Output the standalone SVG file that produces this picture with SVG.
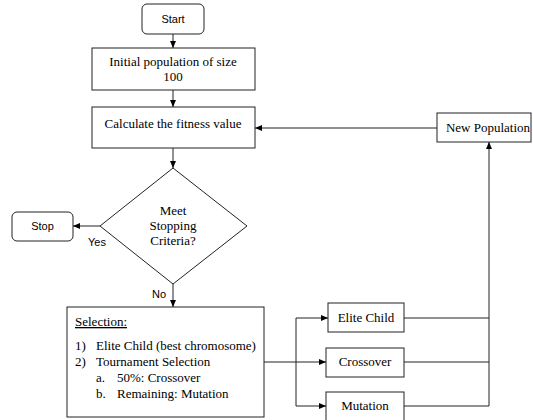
<svg xmlns="http://www.w3.org/2000/svg" width="533" height="420" viewBox="0 0 533 420">
<defs>
<marker id="ah" markerWidth="7" markerHeight="6" refX="7" refY="3" orient="auto" markerUnits="userSpaceOnUse">
<path d="M0,0 L7,3 L0,6 Z" fill="#000"/>
</marker>
<style>
.box{fill:#fff;stroke:#222;stroke-width:1}
.ln{fill:none;stroke:#222;stroke-width:1}
.ser{font-family:"Liberation Serif","Times New Roman",serif;font-size:13px;fill:#000}
.sans{font-family:"Liberation Sans",Arial,sans-serif;font-size:11px;fill:#000}
</style>
</defs>
<rect width="533" height="420" fill="#fff"/>
<g id="connectors">
<line class="ln" x1="173" y1="34" x2="173" y2="48" marker-end="url(#ah)"/>
<line class="ln" x1="173" y1="90" x2="173" y2="107" marker-end="url(#ah)"/>
<line class="ln" x1="173" y1="148" x2="173" y2="168" marker-end="url(#ah)"/>
<line class="ln" x1="100" y1="226" x2="73" y2="226" marker-end="url(#ah)"/>
<line class="ln" x1="173" y1="284" x2="173" y2="307" marker-end="url(#ah)"/>
<line class="ln" x1="437" y1="128" x2="255" y2="128" marker-end="url(#ah)"/>
<line class="ln" x1="264" y1="362" x2="296" y2="362"/>
<polyline class="ln" points="296,318 296,406"/>
<line class="ln" x1="296" y1="318" x2="328" y2="318" marker-end="url(#ah)"/>
<line class="ln" x1="296" y1="362" x2="326" y2="362" marker-end="url(#ah)"/>
<line class="ln" x1="296" y1="406" x2="326" y2="406" marker-end="url(#ah)"/>
<line class="ln" x1="404" y1="318" x2="489" y2="318"/>
<line class="ln" x1="404" y1="362" x2="489" y2="362"/>
<line class="ln" x1="404" y1="406" x2="489" y2="406"/>
<line class="ln" x1="489" y1="406" x2="489" y2="142" marker-end="url(#ah)"/>
<text class="sans" x="88" y="246">Yes</text>
<text class="sans" x="152" y="298">No</text>
</g>
<g id="start">
<rect class="box" x="142" y="4" width="62" height="30" rx="5"/>
<text class="sans" x="173" y="23" text-anchor="middle">Start</text>
</g>
<g id="init">
<rect class="box" x="92" y="48" width="163" height="42"/>
<text class="ser" x="173" y="66" text-anchor="middle">Initial population of size</text>
<text class="ser" x="173" y="81" text-anchor="middle">100</text>
</g>
<g id="calc">
<rect class="box" x="92" y="107" width="163" height="41"/>
<text class="ser" x="173" y="128" text-anchor="middle">Calculate the fitness value</text>
</g>
<g id="newpop">
<rect class="box" x="437" y="113" width="94" height="29"/>
<text class="ser" x="488" y="132" text-anchor="middle">New Population</text>
</g>
<g id="decision">
<polygon class="box" points="173,168 247,226 173,284 100,226"/>
<text class="ser" x="173" y="215" text-anchor="middle">Meet</text>
<text class="ser" x="173" y="230" text-anchor="middle">Stopping</text>
<text class="ser" x="173" y="245" text-anchor="middle">Criteria?</text>
</g>
<g id="stop">
<rect class="box" x="12" y="212" width="61" height="29" rx="5"/>
<text class="sans" x="42.5" y="230" text-anchor="middle">Stop</text>
</g>
<g id="selection">
<rect class="box" x="67" y="307" width="197" height="110"/>
<text class="ser" x="75" y="326" text-decoration="underline">Selection:</text>
<text class="ser" x="75" y="350">1)</text>
<text class="ser" x="96" y="350">Elite Child (best chromosome)</text>
<text class="ser" x="75" y="366">2)</text>
<text class="ser" x="96" y="366">Tournament Selection</text>
<text class="ser" x="96" y="382">a.</text>
<text class="ser" x="117" y="382">50%: Crossover</text>
<text class="ser" x="96" y="398">b.</text>
<text class="ser" x="117" y="398">Remaining: Mutation</text>
</g>
<g id="elite">
<rect class="box" x="328" y="303" width="76" height="29"/>
<text class="ser" x="366" y="322" text-anchor="middle">Elite Child</text>
</g>
<g id="crossover">
<rect class="box" x="326" y="348" width="78" height="29"/>
<text class="ser" x="365" y="366" text-anchor="middle">Crossover</text>
</g>
<g id="mutation">
<rect class="box" x="326" y="392" width="78" height="34"/>
<text class="ser" x="365" y="410" text-anchor="middle">Mutation</text>
</g>
</svg>
